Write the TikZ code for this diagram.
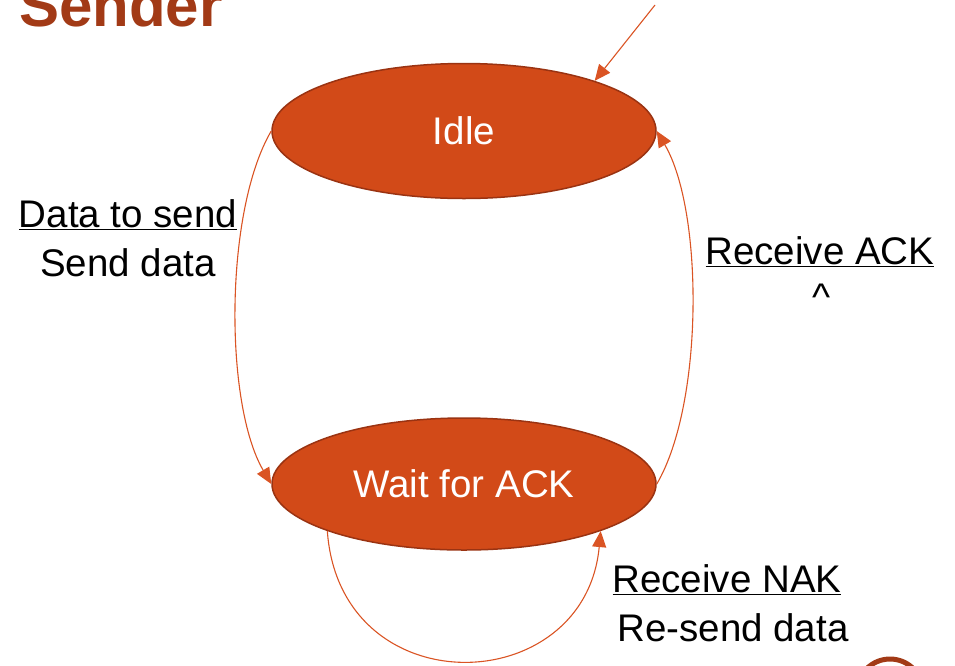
\documentclass[tikz,border=0pt]{standalone}
\usepackage{fontspec}
\setmainfont{Liberation Sans}
\usetikzlibrary{shapes.geometric,arrows.meta}
\definecolor{statefill}{HTML}{D24A18}
\definecolor{stateedge}{HTML}{9A3312}
\definecolor{arrowcol}{HTML}{DA5424}
\definecolor{titlecol}{HTML}{A23A16}
\tikzset{
  state/.style={ellipse, fill=statefill, draw=stateedge, line width=1.5pt,
    minimum width=384pt, minimum height=135pt, inner sep=0pt,
    text=white, font=\fontsize{38.5}{46}\selectfont},
  trans/.style={draw=arrowcol, line width=1.1pt,
    -{Triangle[length=16pt,width=14pt]}},
  lbl/.style={font=\fontsize{38.5}{46}\selectfont, text=black, inner sep=0pt}
}
\begin{document}
\begin{tikzpicture}[x=1pt,y=-1pt]
\useasboundingbox (0,0) rectangle (955,665);
\begin{scope}
\clip (0,0) rectangle (955,665);
\node[anchor=base west, inner sep=0pt, text=titlecol,
  font=\fontsize{60}{70}\selectfont\bfseries] (title) at (19,26) {Sender};
\node[state] (idle) at (464,131) {Idle};
\node[state, minimum height=132pt] (wait) at (464,484) {Wait for ACK};
\coordinate (start) at (655,5);
\draw[trans] (start) -- (idle.21);
\draw[trans] (idle.west) .. controls +(-47,80) and +(-47,-80) .. (wait.west);
\draw[trans] (wait.east) .. controls +(47,-80) and +(47,80) .. (idle.east);
\draw[trans] (wait.199) .. controls (340,707) and (585,700) .. (wait.341);
\node[lbl] (l1a) at (128,215) {\underline{Data to send}};
\node[lbl] (l1b) at (128,263) {Send data};
\node[lbl] (l2a) at (820,252) {\underline{Receive ACK}};
\node[lbl] (l2b) at (822,297) {\^{}};
\node[lbl] (l3a) at (727,580) {\underline{Receive NAK}};
\node[lbl] (l3b) at (733,628) {Re-send data};
\draw[draw=titlecol, line width=5pt] (890,692) circle (33);
\draw[draw=titlecol, line width=3.5pt] (890,692) circle (22);
\end{scope}
\end{tikzpicture}
\end{document}
